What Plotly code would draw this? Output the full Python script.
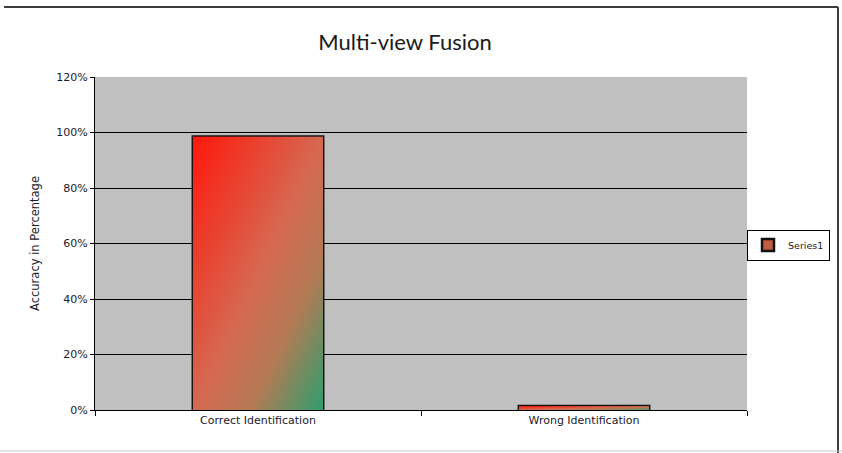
import base64
import plotly.graph_objects as go

# ---- data ----
categories = ["Correct Identification", "Wrong Identification"]
accuracy = [0.986, 0.014]
series_name = "Series1"
y_ticks = [0, 0.2, 0.4, 0.6, 0.8, 1.0, 1.2]
title_text = "Multi-view Fusion"
y_title = "Accuracy in Percentage"

BAR_WIDTH = 0.4

# gradient fill (red top-left -> green bottom-right), used as bar texture
svg = (
    '<svg xmlns="http://www.w3.org/2000/svg" width="100" height="100" '
    'viewBox="0 0 100 100" preserveAspectRatio="none">'
    '<defs><linearGradient id="g" x1="0" y1="0" x2="1" y2="1">'
    '<stop offset="0" stop-color="#ff180c"/>'
    '<stop offset="0.5" stop-color="#d66850"/>'
    '<stop offset="0.72" stop-color="#b47a55"/>'
    '<stop offset="1" stop-color="#2e9e6e"/>'
    '</linearGradient></defs>'
    '<rect x="0" y="0" width="100" height="100" fill="url(#g)"/></svg>'
)
src = "data:image/svg+xml;base64," + base64.b64encode(svg.encode()).decode()

fig = go.Figure()
fig.add_trace(go.Bar(
    x=categories, y=accuracy, name=series_name, width=BAR_WIDTH,
    marker=dict(color="#c05a40", line=dict(color="#111111", width=2.5)),
    showlegend=True,
))

images = []
for i, v in enumerate(accuracy):
    images.append(dict(
        source=src, xref="x", yref="y",
        x=i - BAR_WIDTH / 2, y=v, sizex=BAR_WIDTH, sizey=v,
        xanchor="left", yanchor="top", sizing="stretch", layer="above",
    ))

L, R, T, B = 95, 95, 77, 43
W, H = 842, 453
pw, ph = W - L - R, H - T - B
def px(x):
    return (x - L) / pw
def py(y):
    return (H - B - y) / ph

shapes = [
    dict(type="line", xref="paper", yref="paper", x0=px(4), x1=px(838), y0=py(7), y1=py(7),
         line=dict(color="#3c3c3c", width=2)),
    dict(type="line", xref="paper", yref="paper", x0=px(838), x1=px(838), y0=py(7), y1=py(453),
         line=dict(color="#3c3c3c", width=2)),
    dict(type="line", xref="paper", yref="paper", x0=px(0), x1=px(842), y0=py(451), y1=py(451),
         line=dict(color="#c8c8c8", width=1)),
]

tick_font = dict(family="DejaVu Sans", size=11, color="#1a1a2a")

fig.update_layout(
    width=W, height=H,
    margin=dict(l=L, r=R, t=T, b=B, pad=0),
    paper_bgcolor="white", plot_bgcolor="#c0c0c0",
    title=dict(text=title_text, x=405 / W, xanchor="center", xref="container",
               y=1 - 42 / H, yanchor="middle", yref="container",
               font=dict(family="Lato", size=22, color="#1a1a1a")),
    xaxis=dict(type="category", showline=True, linecolor="black", linewidth=1,
               ticks="outside", tickson="boundaries", ticklen=5, tickcolor="black",
               showgrid=False, tickfont=tick_font),
    yaxis=dict(range=[0, 1.2], tickvals=y_ticks, tickformat=".0%",
               showline=True, linecolor="black", linewidth=1,
               ticks="outside", ticklen=4, tickcolor="black",
               showgrid=True, gridcolor="black", gridwidth=1, zeroline=False,
               tickfont=tick_font,
               title=dict(text=y_title, standoff=14,
                          font=dict(family="DejaVu Sans", size=11.5, color="#1a1a2a"))),
    legend=dict(x=px(830), y=py(245), xanchor="right", yanchor="middle",
                bgcolor="white", bordercolor="black", borderwidth=1,
                font=dict(family="DejaVu Sans", size=9.5, color="#1a1a2a"),
                itemwidth=30, tracegroupgap=0),
    images=images,
    shapes=shapes,
    showlegend=True,
)

fig.write_html("out.html", config={"displayModeBar": False},
               post_script="document.body.style.margin='0';document.body.style.overflow='hidden';")
